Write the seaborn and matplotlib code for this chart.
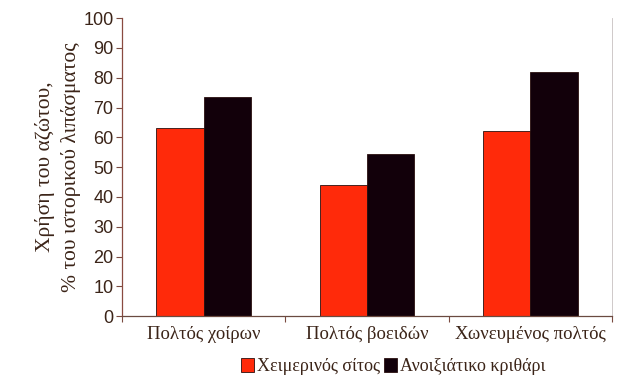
import matplotlib
matplotlib.use("Agg")
import matplotlib.pyplot as plt
import seaborn as sns
import pandas as pd

categories = ["Πολτός χοίρων", "Πολτός βοειδών", "Χωνευμένος πολτός"]
series_names = ["Χειμερινός σίτος", "Ανοιξιάτικο κριθάρι"]
wheat = [63, 44, 62]
barley = [73.5, 54.5, 82]
y_ticks = list(range(0, 101, 10))

df = pd.DataFrame({
    "cat": categories * 2,
    "series": [series_names[0]] * 3 + [series_names[1]] * 3,
    "value": wheat + barley,
})

sns.set_theme(style="white")
plt.rcParams["font.family"] = ["Liberation Serif", "DejaVu Serif"]

text_col = "#3b2418"
fig = plt.figure(figsize=(6.19, 3.87), dpi=100)
ax = fig.add_axes([0.197, 0.183, 0.792, 0.770])

sns.barplot(data=df, x="cat", y="value", hue="series", order=categories,
            hue_order=series_names, palette=["#ff2a0a", "#12000a"],
            width=0.58, gap=0, edgecolor="#2a1010", linewidth=0.6,
            saturation=1, ax=ax, legend=True)

ax.set_ylim(0, 100)
ax.set_xlim(-0.5, 2.5)
ax.set_yticks(y_ticks)
ax.set_yticklabels([str(t) for t in y_ticks], family="Liberation Sans",
                   fontsize=13, color=text_col)
ax.tick_params(axis="y", length=4, width=0.8, color="#7a4a40", left=True, pad=2)
ax.tick_params(axis="x", length=0, pad=7, labelsize=13.5, labelcolor=text_col)
ax.set_xticks([-0.5, 0.5, 1.5, 2.5], minor=True)
ax.tick_params(axis="x", which="minor", length=4, width=0.8, color="#7a4a40", bottom=True)
ax.set_xlabel("")
ax.set_ylabel("Χρήση του αζώτου,\n% του ιστορικού λιπάσματος",
              fontsize=15.5, color=text_col, labelpad=2, linespacing=1.4)

ax.spines["top"].set_visible(False)
ax.spines["left"].set_color("#8a4a40")
ax.spines["bottom"].set_color("#6a4a40")
ax.spines["right"].set_color("#c8c0c0")
ax.spines["right"].set_linewidth(0.6)
ax.spines["left"].set_linewidth(0.9)
ax.spines["bottom"].set_linewidth(0.9)

ax.legend_.remove()
handles, labels = ax.get_legend_handles_labels()
fig.legend(handles, labels, loc="lower center", bbox_to_anchor=(0.635, -0.012),
           ncol=2, frameon=False, fontsize=13, handlelength=0.75, handleheight=0.75,
           handletextpad=0.15, columnspacing=0.2, labelcolor=text_col)

fig.savefig("out.png", dpi=100, facecolor="white")
